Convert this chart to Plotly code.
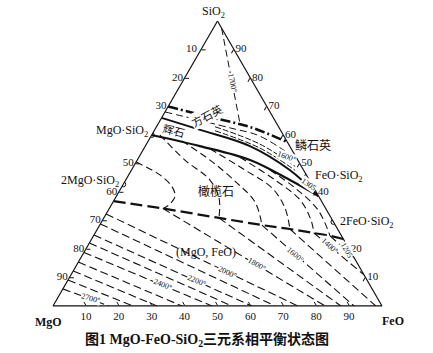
import plotly.graph_objects as go

# ---------------- data (wt%): each point = (SiO2, FeO); MgO = 100 - SiO2 - FeO
cristobalite_boundary = [(70, 0), (66.3, 14.5), (62.8, 28.5), (57.5, 42.5)]
iso_1700 = [(97.5, 2.5), (63.9, 24.9)]
liquid_iso_1 = [(68.1, 0), (62.5, 22.55), (59.6, 33.1), (51.2, 48.8)]
pyroxene_upper = [(66, 0), (61.8, 13.8), (56.1, 31.8), (47.7, 48.1), (38.6, 61.4)]
pyroxene_lower = [(60, 0), (56.1, 16.6), (51.2, 34.3), (44.2, 49.9), (38.6, 61.4)]
pyroxene_iso_a = [(61.5, 18.5), (55.4, 35.2), (47.6, 49.8)]
pyroxene_iso_b = [(62.9, 17.8), (56.8, 34.5), (49.0, 49.1)]
olivine_wustite_boundary = [(36.8, 0), (34.2, 16.3), (30.9, 35.0), (28.4, 49.3),
                            (27.0, 58.5), (25.6, 66.5), (24.6, 71.9), (23.5, 76.5)]
olivine_isotherms = [
    [(50.5, 0), (46.0, 9.5), (41.8, 15.3), (38.6, 17.8), (35.8, 17.7), (34.2, 16.3)],
    [(60.0, 2.5), (51.2, 14.5), (44.2, 25.6), (37.9, 31.5), (30.9, 35.0)],
    [(57.9, 10.25), (51.2, 22.1), (43.2, 34.3), (36.5, 43.15), (28.4, 49.3)],
    [(55.2, 20.1), (47.7, 34.5), (41.4, 45.9), (34.4, 53.3), (27.0, 58.5)],
    [(52.2, 30.7), (44.2, 45.4), (37.2, 56.5), (30.2, 63.3), (25.6, 66.5)],
    [(47.7, 42.1), (41.4, 52.9), (33.7, 63.7), (24.6, 71.9)],
]
wustite_isotherms = [
    [(6.0, 0), (0, 17.0)],
    [(9.1, 0), (0, 24.3)],
    [(12.3, 0), (0, 31.6)],
    [(15.4, 0), (0, 39.2)],
    [(18.8, 0), (0, 48.3)],
    [(22.1, 0), (0, 54.4)],
    [(24.9, 0), (0, 60.4)],
    [(28.8, 0), (0, 67.5)],
    [(32.3, 0), (0, 74.4)],
    [(34.2, 16.3), (0, 82.7)],
    [(30.9, 35.0), (0, 87.5)],
    [(28.4, 49.3), (0, 91.5)],
    [(27.0, 58.5), (0, 98.1)],
    [(25.6, 66.5), (10.9, 89.1)],
    [(24.6, 71.9), (16.8, 83.2)],
]
compound_names = ["MgO·SiO<sub>2</sub>", "2MgO·SiO<sub>2</sub>", "FeO·SiO<sub>2</sub>", "2FeO·SiO<sub>2</sub>"]
compound_sio2 = [60.0, 42.7, 45.5, 29.5]
compound_feo = [0.0, 0.0, 54.5, 70.5]

# field and isotherm labels: (text, SiO2, FeO)
field_labels = [("方石英", 67.0, 13.3), ("辉石", 61.8, 5.9), ("橄榄石", 40.4, 29.3),
                ("(MgO, FeO)", 18.9, 37.1)]
temp_labels = [("1700°", 78.2, 15.6), ("1600°", 52.3, 44.7), ("1305", 42.8, 56.4),
               ("2700°", 2.5, 10.3), ("2400°", 7.4, 29.7), ("2200°", 8.8, 39.1),
               ("2000°", 11.9, 47.2), ("1800°", 14.4, 54.8), ("1600°", 18.2, 64.5),
               ("1400°", 21.1, 73.4), ("1205", 19.6, 79.6)]
temp_angles = [78, 20, 35, 15, 22, 22, 25, 30, 40, 42, 60]

left_ticks_mgo = [10, 20, 30, 50, 60, 70, 80, 90]
bottom_ticks_feo = [10, 20, 30, 40, 50, 60, 70, 80, 90]
right_ticks_sio2 = [90, 80, 70, 60, 50, 40, 20, 10]

INK = "#111111"
SERIF = "Liberation Serif, Times New Roman, serif"
CJK = "Noto Sans CJK SC, sans-serif"

fig = go.Figure()


def add_curve(pts, width=1.0, dash="6px,3px", shape="linear"):
    s = [p[0] for p in pts]
    f = [p[1] for p in pts]
    m = [100 - a - b for a, b in pts]
    fig.add_trace(go.Scatterternary(a=s, b=m, c=f, mode="lines",
                                    line=dict(color=INK, width=width, dash=dash, shape=shape),
                                    hoverinfo="skip", showlegend=False))


add_curve(cristobalite_boundary, 2.6, "10px,3px,2px,3px", "spline")
add_curve(iso_1700, 1.0, "7px,4px")
add_curve(liquid_iso_1, 1.0, "7px,4px", "spline")
add_curve(pyroxene_iso_a, 1.0, "6px,2px", "spline")
add_curve(pyroxene_iso_b, 1.0, "6px,2px", "spline")
add_curve(pyroxene_upper, 2.0, "solid", "spline")
add_curve(pyroxene_lower, 2.2, "solid", "spline")
add_curve(olivine_wustite_boundary, 2.2, "12px,5px", "spline")
for c in olivine_isotherms:
    add_curve(c, 1.1, "7px,4px", "spline")
for c in wustite_isotherms:
    add_curve(c, 1.1, "8px,4px")

fig.add_trace(go.Scatterternary(
    a=compound_sio2, c=compound_feo,
    b=[100 - s - f for s, f in zip(compound_sio2, compound_feo)],
    mode="markers", marker=dict(symbol="circle-open", size=5, color=INK, line=dict(width=1)),
    hoverinfo="skip", showlegend=False))


def to_paper(sio2, feo):
    return (feo + sio2 / 2) / 100, sio2 / 100


def note(x, y, text, family=SERIF, size=12, angle=0, xanchor="center", bg=None):
    d = dict(x=x, y=y, text=text, textangle=angle, showarrow=False,
             xref="paper", yref="paper", xanchor=xanchor, yanchor="middle",
             font=dict(family=family, size=size, color=INK))
    if bg:
        d.update(bgcolor=bg, borderpad=0)
    return d


ann = []
field_angles = [-28, 15, 0, 0]
for (t, s, f), ang in zip(field_labels, field_angles):
    x, y = to_paper(s, f)
    fam = SERIF if t.startswith("(") else CJK
    ann.append(note(x, y, t, fam, 11 if t in ("方石英", "辉石") else 12, ang,
                    bg="white" if t == "方石英" else None))
for (t, s, f), ang in zip(temp_labels, temp_angles):
    x, y = to_paper(s, f)
    ann.append(note(x, y, t, SERIF, 8, ang, bg="white"))

ann += [
    note(0.295, 0.614, compound_names[0], xanchor="right"),
    note(0.208, 0.439, compound_names[1], xanchor="right"),
    note(0.790, 0.456, compound_names[2], xanchor="left"),
    note(0.866, 0.295, compound_names[3], xanchor="left"),
    note(0.790, 0.565, "鳞石英", CJK, 12),
    note(0.489, 1.03, "SiO<sub>2</sub>", SERIF, 12),
    note(-0.015, -0.056, "<b>MgO</b>", SERIF, 12),
    note(1.033, -0.053, "<b>FeO</b>", SERIF, 12),
    note(0.468, -0.119, "<b>图1 MgO-FeO-SiO<sub>2</sub>三元系相平衡状态图</b>",
         "Liberation Serif, Noto Sans CJK SC", 14),
    # left-edge tick text nearest the SiO2 corner (Plotly hides it on the a-axis)
    note(0.447, 0.905, str(left_ticks_mgo[0]), SERIF, 11, xanchor="right"),
]


def axis(vals, texts):
    return dict(tickmode="array", tickvals=vals, ticktext=texts, showgrid=False,
                linecolor=INK, linewidth=1.2, ticks="inside", ticklen=4, tickcolor=INK,
                tickfont=dict(family=SERIF, size=11, color=INK), title=dict(text=""))


fig.update_layout(
    width=433, height=353,
    margin=dict(l=53, r=51, t=21, b=47),
    paper_bgcolor="white",
    ternary=dict(
        sum=100, bgcolor="white", domain=dict(x=[0, 1], y=[0, 1]),
        aaxis=axis([100 - v for v in left_ticks_mgo],
                   [""] + [str(v) for v in left_ticks_mgo[1:]]),
        baxis=axis([100 - v for v in bottom_ticks_feo], [str(v) for v in bottom_ticks_feo]),
        caxis=axis([100 - v for v in right_ticks_sio2], [str(v) for v in right_ticks_sio2]),
    ),
    annotations=ann,
    showlegend=False,
)

fig.write_html("out.html")
